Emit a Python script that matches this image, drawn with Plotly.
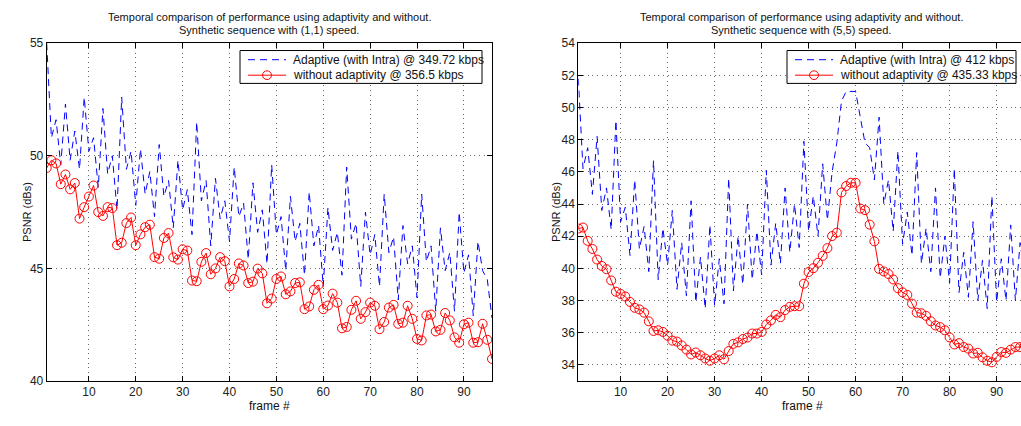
import plotly.graph_objects as go

W, H = 1021, 426

frames = list(range(1, 97))

# Left panel: Synthetic sequence with (1,1) speed
left_adaptive = [
    55.0, 50.8, 51.6, 49.6, 52.3, 49.8, 51.1, 49.4,
    52.6, 50.2, 50.8, 48.6, 52.1, 49.2, 50.0, 47.6,
    52.6, 49.4, 50.2, 47.8, 50.3, 48.3, 49.3, 47.3,
    50.5, 48.2, 48.9, 46.8, 49.8, 47.6, 48.5, 46.5,
    51.5, 48.0, 48.9, 46.0, 49.0, 47.2, 48.0, 46.2,
    49.5, 47.3, 47.9, 45.4, 48.8, 46.6, 47.6, 45.2,
    49.6, 46.5, 47.3, 44.9, 48.2, 46.2, 47.0, 44.7,
    48.4, 46.0, 46.9, 44.2, 47.7, 45.8, 46.6, 44.7,
    49.5, 46.3, 47.0, 44.2, 47.5, 45.6, 46.5, 44.2,
    48.3, 45.7, 46.4, 43.6, 46.9, 45.2, 46.0, 43.7,
    48.3, 45.3, 46.0, 43.1, 46.8, 44.9, 45.7, 43.1,
    47.5, 44.8, 45.6, 42.9, 46.2, 44.9, 44.5, 42.8,
]
left_fixed = [
    49.46, 49.80, 49.66, 48.74, 49.17, 48.51, 48.79, 47.21,
    47.72, 48.19, 48.68, 47.50, 47.33, 47.72, 47.68, 46.03,
    46.14, 47.01, 47.26, 46.03, 46.51, 46.83, 46.94, 45.50,
    45.43, 46.35, 46.57, 45.49, 45.39, 45.85, 45.79, 44.46,
    44.43, 45.29, 45.68, 44.74, 45.00, 45.50, 45.32, 44.20,
    44.53, 45.22, 45.13, 44.35, 44.41, 44.99, 44.78, 43.45,
    43.66, 44.53, 44.64, 43.85, 43.98, 44.35, 44.38, 43.19,
    43.31, 44.05, 44.27, 43.19, 43.35, 43.88, 43.48, 42.34,
    42.40, 43.16, 43.56, 42.76, 43.06, 43.48, 43.34, 42.30,
    42.62, 43.26, 43.38, 42.54, 42.59, 43.34, 42.76, 41.87,
    41.80, 42.91, 42.95, 42.20, 42.27, 43.02, 42.69, 41.94,
    41.70, 42.52, 42.59, 41.70, 41.72, 42.54, 41.83, 40.98,
]

# Right panel: Synthetic sequence with (5,5) speed
right_adaptive = [
    51.8, 46.2, 47.5, 44.6, 48.2, 43.6, 45.0, 42.4,
    49.2, 42.9, 43.8, 40.8, 45.5, 41.2, 42.6, 39.8,
    46.7, 39.3, 42.5, 40.2, 43.6, 38.7, 41.6, 38.3,
    44.2, 37.9, 40.7, 37.5, 42.7, 37.7, 40.6, 37.8,
    45.6, 38.6, 42.0, 39.0, 44.0, 39.3, 42.3, 39.6,
    46.1, 40.2, 42.8, 40.3, 45.0, 41.0, 44.0, 41.3,
    47.9, 42.3, 44.5, 42.0, 46.5, 43.0, 46.0, 47.8,
    50.4, 51.0, 51.0, 51.0, 49.4, 47.8, 47.5, 45.5,
    49.4, 44.0, 45.5, 42.3, 47.3, 41.5, 43.5, 40.8,
    47.2, 40.3, 42.5, 39.8, 45.0, 39.4, 42.0, 39.1,
    46.2, 38.5, 41.0, 38.2, 42.9, 38.0, 40.5, 37.5,
    44.5, 37.9, 40.6, 38.0, 42.7, 38.0, 41.6, 39.5,
]
right_fixed = [
    42.48, 42.54, 41.71, 41.21, 40.55, 40.15, 39.95, 39.25,
    38.55, 38.41, 38.25, 37.91, 37.55, 37.45, 37.25, 36.71,
    36.11, 36.15, 36.05, 35.81, 35.51, 35.45, 35.21, 34.95,
    34.65, 34.77, 34.60, 34.40, 34.26, 34.40, 34.60, 34.35,
    34.86, 35.31, 35.40, 35.61, 35.70, 35.95, 35.95, 36.05,
    36.51, 36.77, 37.11, 36.97, 37.41, 37.61, 37.65, 37.65,
    39.05, 39.77, 40.01, 40.35, 40.78, 41.26, 42.01, 42.22,
    44.72, 45.12, 45.32, 45.32, 43.72, 43.62, 42.72, 41.68,
    39.97, 39.81, 39.65, 39.31, 38.77, 38.51, 38.35, 37.81,
    37.25, 37.21, 37.05, 36.71, 36.45, 36.35, 36.15, 35.71,
    35.27, 35.35, 35.11, 35.01, 34.71, 34.75, 34.47, 34.26,
    34.16, 34.50, 34.80, 34.75, 34.95, 35.11, 35.11, 35.20,
]

left_names = ["Adaptive (with Intra) @ 349.72 kbps", "without adaptivity @ 356.5 kbps"]
right_names = ["Adaptive (with Intra) @ 412 kbps", "without adaptivity @ 435.33 kbps"]
title_line1 = "Temporal comparison of performance using adaptivity and without."
left_title2 = "Synthetic sequence with (1,1) speed."
right_title2 = "Synthetic sequence with (5,5) speed."
x_ticks = [10, 20, 30, 40, 50, 60, 70, 80, 90]
left_y_ticks = [40, 45, 50, 55]
right_y_ticks = [34, 36, 38, 40, 42, 44, 46, 48, 50, 52, 54]

FONT = "Liberation Sans, Arial, Helvetica, sans-serif"
BLUE = "#0000ff"
RED = "#ff0000"
DASH = "7px,5px"

def px(x):
    return x / W

def py(y):
    return 1 - y / H

fig = go.Figure()

fig.add_trace(go.Scatter(x=frames, y=left_adaptive, mode="lines", name=left_names[0],
                         line=dict(color=BLUE, width=1, dash=DASH),
                         xaxis="x", yaxis="y", showlegend=False))
fig.add_trace(go.Scatter(x=frames, y=left_fixed, mode="lines+markers", name=left_names[1],
                         line=dict(color=RED, width=1),
                         marker=dict(symbol="circle-open", size=9, color=RED, line=dict(width=1, color=RED)),
                         xaxis="x", yaxis="y", showlegend=False))
fig.add_trace(go.Scatter(x=frames, y=right_adaptive, mode="lines", name=right_names[0],
                         line=dict(color=BLUE, width=1, dash=DASH),
                         xaxis="x2", yaxis="y2", showlegend=False))
fig.add_trace(go.Scatter(x=frames, y=right_fixed, mode="lines+markers", name=right_names[1],
                         line=dict(color=RED, width=1),
                         marker=dict(symbol="circle-open", size=9, color=RED, line=dict(width=1, color=RED)),
                         xaxis="x2", yaxis="y2", showlegend=False))

ydom = [py(386.7), py(37.4)]
axis_common = dict(
    showline=True, linecolor="black", linewidth=1,
    ticks="inside", ticklen=5, tickcolor="black", tickwidth=1,
    showgrid=True, gridcolor="rgba(40,40,40,0.7)", griddash="1px,3.7px", gridwidth=1,
    zeroline=False, tickfont=dict(family=FONT, size=12, color="#222"),
)

fig.update_layout(
    width=W, height=H,
    margin=dict(l=0, r=0, t=0, b=0),
    paper_bgcolor="white", plot_bgcolor="white",
    xaxis=dict(domain=[px(46.7), px(492.0)], range=[1, 96], tickvals=x_ticks,
               anchor="y", mirror="ticks", **axis_common),
    yaxis=dict(domain=ydom, range=[40, 55], tickvals=left_y_ticks,
               anchor="x", mirror="ticks", **axis_common),
    xaxis2=dict(domain=[px(578.3), 1.0], range=[1, 1 + (W - 578.3) / 4.7], tickvals=x_ticks,
                anchor="y2", mirror="ticks", **axis_common),
    yaxis2=dict(domain=ydom, range=[33, 54], tickvals=right_y_ticks,
                anchor="x2", mirror=False, **axis_common),
    showlegend=False,
)

annots = []
shapes = []

def txt(x, y, s, size=11, anchor="center", angle=0):
    annots.append(dict(x=px(x), y=py(y), text=s, showarrow=False, textangle=angle,
                       xanchor=anchor, yanchor="middle", xref="paper", yref="paper",
                       font=dict(family=FONT, size=size, color="#111")))

for cx, t2 in [(269, left_title2), (801, right_title2)]:
    txt(cx, 10, title_line1)
    txt(cx, 24, t2)
for cx in [269, 802]:
    txt(cx, 413, "frame #", size=12)
for cx in [27, 556]:
    txt(cx, 212, "PSNR (dBs)", size=11, angle=-90)

# legend boxes (drawn manually to match the original compact MATLAB legend)
def legend(x0, x1, s0, s1, names):
    y0, y1 = 45, 79
    shapes.append(dict(type="rect", xref="paper", yref="paper",
                       x0=px(x0), x1=px(x1), y0=py(y1), y1=py(y0),
                       line=dict(color="black", width=1), fillcolor="white", layer="above"))
    r1, r2 = 54.5, 70.5
    shapes.append(dict(type="line", xref="paper", yref="paper", x0=px(s0), x1=px(s1),
                       y0=py(r1), y1=py(r1), line=dict(color=BLUE, width=1, dash=DASH), layer="above"))
    shapes.append(dict(type="line", xref="paper", yref="paper", x0=px(s0), x1=px(s1),
                       y0=py(r2), y1=py(r2), line=dict(color=RED, width=1), layer="above"))
    cx = (s0 + s1) / 2
    shapes.append(dict(type="circle", xref="paper", yref="paper", x0=px(cx - 4.5), x1=px(cx + 4.5),
                       y0=py(r2 + 4.5), y1=py(r2 - 4.5), line=dict(color=RED, width=1),
                       fillcolor="rgba(0,0,0,0)", layer="above"))
    txt(s1 + 5, r1, names[0], size=12, anchor="left")
    txt(s1 + 5, r2, names[1], size=12, anchor="left")

legend(240, 482, 248, 286, left_names)
legend(787, 1016, 795, 833, right_names)

fig.update_layout(annotations=annots, shapes=shapes)

fig.write_html("out.html", config={"displayModeBar": False},
               post_script="document.body.style.margin='0px';document.body.style.overflow='hidden';")
